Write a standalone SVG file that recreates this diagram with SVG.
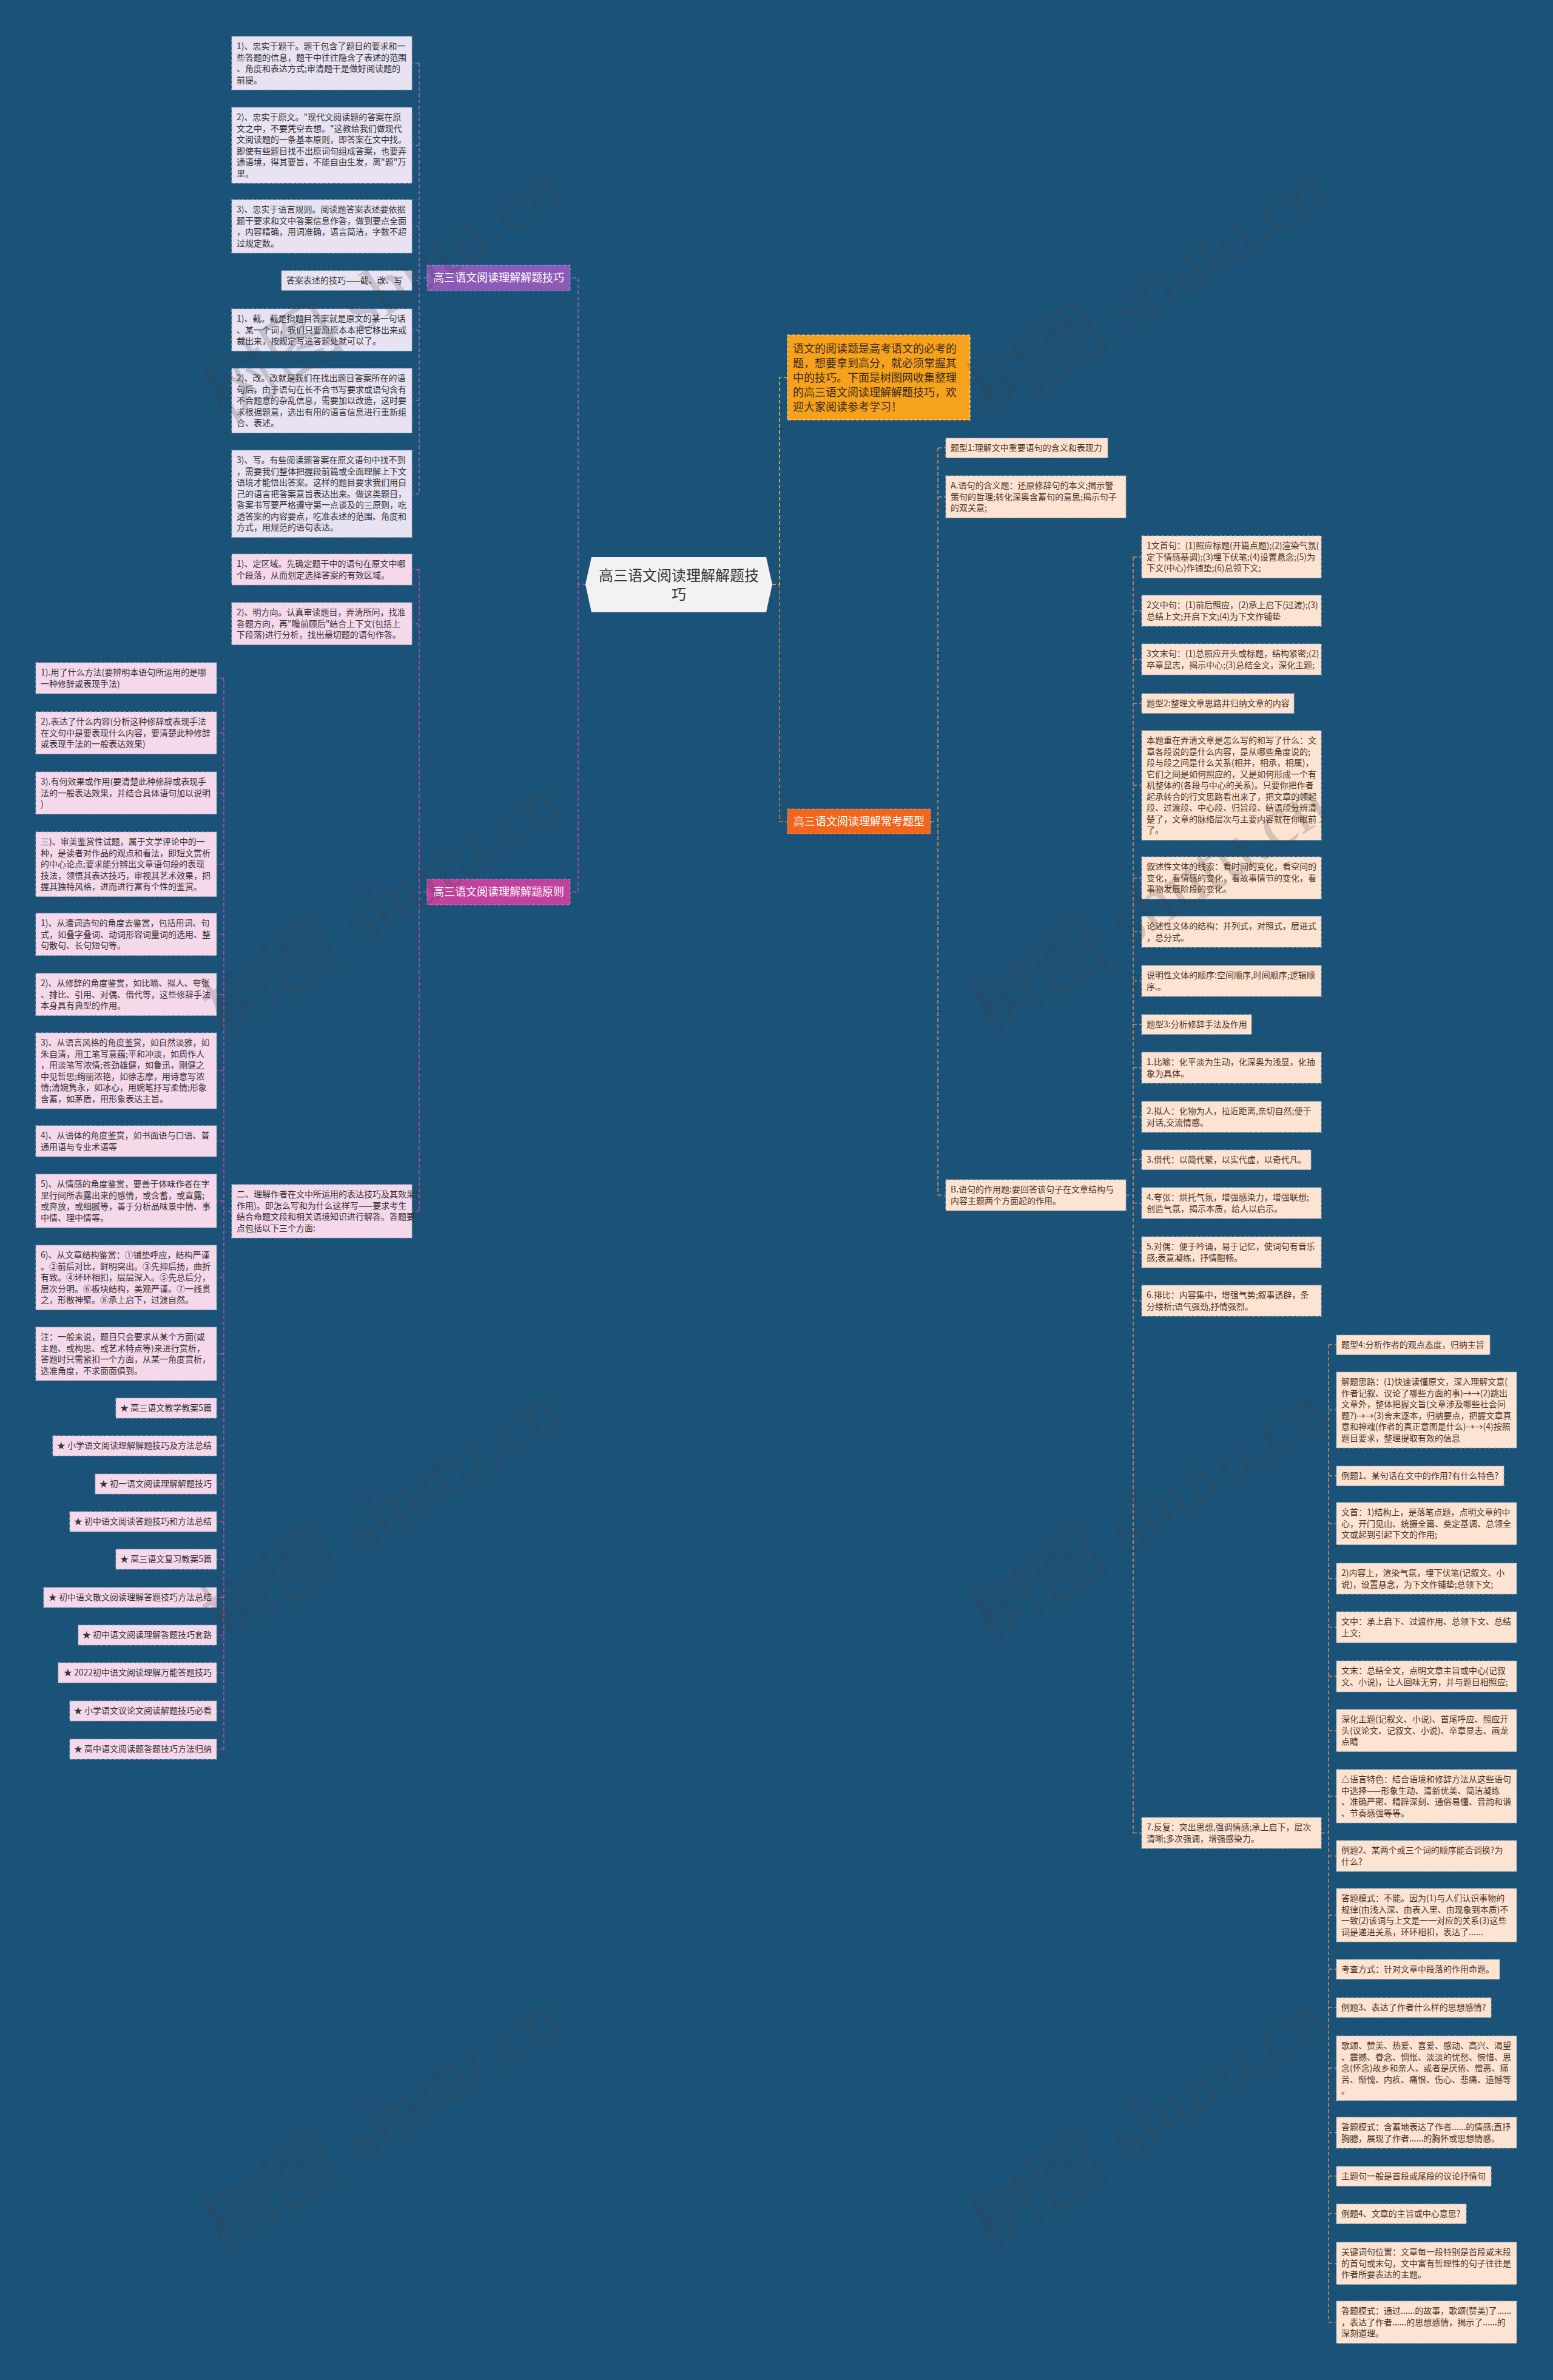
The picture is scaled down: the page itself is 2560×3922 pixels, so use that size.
<svg xmlns="http://www.w3.org/2000/svg" width="2560" height="3922" viewBox="0 0 2560 3922">
<style>
text{font-family:"Noto Sans CJK SC","Noto Sans",sans-serif}
.leaf rect{stroke:#a9b2c2;stroke-width:1.2;stroke-dasharray:5 3}
.leaf text{font-size:14px;fill:#333}
.lav rect{fill:#e8e2f2}
.pink rect{fill:#f6d8eb}
.peach rect{fill:#fde3d2}
.peach text{fill:#4d3426}
.star text{text-anchor:end}
.br text{font-size:18px;fill:#fff;text-anchor:middle}
.br rect{stroke:#ffffff;stroke-opacity:.35;stroke-width:1.2;stroke-dasharray:5 3}
.c{fill:none;stroke-width:1.6;stroke-dasharray:6 4}
.cp{stroke:#a064d2}.cm{stroke:#c64aa2}.cy{stroke:#e6c23c}.co{stroke:#ec7430}.cb{stroke:#d48c5e}
.wm{font-family:"Liberation Serif","Noto Sans CJK SC",serif;font-size:120px;fill:#3c3c3c;fill-opacity:.2;text-anchor:middle}
</style>
<rect x="0" y="0" width="2560" height="3922" fill="#1b5378"/>

<g id="connectors">
<path class="c cp" d="M965,963 H953 V458 H940 M704,458 H691 M691,104 V814 M691,104 H679 M691,239.5 H679 M691,373 H679 M691,462 H679 M691,544 H679 M691,660 H679 M691,814 H679"/>
<path class="c cm" d="M953,963 V1470 H940 M704,1470 H691 M691,938.5 V1996 M691,938.5 H679 M691,1028 H679 M691,1996 H679 M382,1996 H369 M369,1117.5 V2882.5 M369,1117.5 H357 M369,1208 H357 M369,1307 H357 M369,1424 H357 M369,1540 H357 M369,1639 H357 M369,1764.5 H357 M369,1880.5 H357 M369,1979 H357 M369,2105 H357 M369,2231 H357 M369,2320.5 H357 M369,2382.5 H357 M369,2445.5 H357 M369,2507.5 H357 M369,2569.5 H357 M369,2632.5 H357 M369,2694.5 H357 M369,2756.5 H357 M369,2819.5 H357 M369,2882.5 H357"/>
<path class="c cy" d="M1273,963 H1285 V622 H1298"/>
<path class="c co" d="M1285,963 V1354 H1298"/>
<path class="c cb" d="M1534,1354 H1546 M1546,738 V1969.5 M1546,738 H1559 M1546,819 H1559 M1546,1969.5 H1559"/>
<path class="c cb" d="M1856,1969.5 H1868 M1868,918 V3020.5 M1868,918 H1882 M1868,1006.5 H1882 M1868,1086.5 H1882 M1868,1159 H1882 M1868,1294 H1882 M1868,1447 H1882 M1868,1535.5 H1882 M1868,1616.5 H1882 M1868,1688 H1882 M1868,1759.5 H1882 M1868,1840.5 H1882 M1868,1911 H1882 M1868,1982.5 H1882 M1868,2063.5 H1882 M1868,2143.5 H1882 M1868,3020.5 H1882"/>
<path class="c cb" d="M2178,3020.5 H2190 M2190,2216 V3827 M2190,2216 H2203 M2190,2323.5 H2203 M2190,2432 H2203 M2190,2511 H2203 M2190,2601.5 H2203 M2190,2681.5 H2203 M2190,2762.5 H2203 M2190,2852 H2203 M2190,2960 H2203 M2190,3058.5 H2203 M2190,3156 H2203 M2190,3245 H2203 M2190,3308 H2203 M2190,3408 H2203 M2190,3514.5 H2203 M2190,3586 H2203 M2190,3648 H2203 M2190,3730 H2203 M2190,3827 H2203"/>
</g>

<g id="root">
<polygon points="965,963 975,918 1263,918 1273,963 1263,1009 975,1009" fill="#f2f2f2"/>
<text x="1119" y="957" font-size="24" fill="#333" text-anchor="middle">高三语文阅读理解解题技<tspan x="1119" dy="31">巧</tspan></text>
</g>

<g id="branch-skill" class="br"><rect x="704" y="437" width="236" height="42" fill="#8c5bb8"/><text x="822" y="464">高三语文阅读理解解题技巧</text></g>
<g id="branch-principle" class="br"><rect x="704" y="1449" width="236" height="42" fill="#c2419c"/><text x="822" y="1476">高三语文阅读理解解题原则</text></g>
<g id="branch-types" class="br"><rect x="1298" y="1333" width="236" height="41" fill="#f2651c"/><text x="1416" y="1360">高三语文阅读理解常考题型</text></g>

<g id="intro"><rect x="1298" y="552" width="301" height="140" fill="#f6a21c" stroke="#ffe0a0" stroke-width="1.2" stroke-dasharray="5 3"/>
<text x="1307" y="581" font-size="18" fill="#3a2a1a"><tspan>语文的阅读题是高考语文的必考的</tspan><tspan x="1307" dy="24">题，想要拿到高分，就必须掌握其</tspan><tspan x="1307" dy="24">中的技巧。下面是树图网收集整理</tspan><tspan x="1307" dy="24">的高三语文阅读理解解题技巧，欢</tspan><tspan x="1307" dy="24">迎大家阅读参考学习！</tspan></text></g>

<g id="n-l1" class="leaf lav"><rect x="382" y="60" width="297" height="88"/><text x="390" y="81"><tspan>1)、忠实于题干。题干包含了题目的要求和一</tspan><tspan x="390" dy="18.5">些答题的信息，题干中往往隐含了表述的范围</tspan><tspan x="390" dy="18.5">、角度和表达方式;审清题干是做好阅读题的</tspan><tspan x="390" dy="18.5">前提。</tspan></text></g>
<g id="n-l2" class="leaf lav"><rect x="382" y="177" width="297" height="125"/><text x="390" y="198"><tspan>2)、忠实于原文。"现代文阅读题的答案在原</tspan><tspan x="390" dy="18.5">文之中，不要凭空去想。"这教给我们做现代</tspan><tspan x="390" dy="18.5">文阅读题的一条基本原则，即答案在文中找。</tspan><tspan x="390" dy="18.5">即使有些题目找不出原词句组成答案，也要弄</tspan><tspan x="390" dy="18.5">通语境，得其要旨，不能自由生发，离"题"万</tspan><tspan x="390" dy="18.5">里。</tspan></text></g>
<g id="n-l3" class="leaf lav"><rect x="382" y="329" width="297" height="88"/><text x="390" y="350"><tspan>3)、忠实于语言规则。阅读题答案表述要依据</tspan><tspan x="390" dy="18.5">题干要求和文中答案信息作答，做到要点全面</tspan><tspan x="390" dy="18.5">，内容精确，用词准确，语言简洁，字数不超</tspan><tspan x="390" dy="18.5">过规定数。</tspan></text></g>
<g id="n-l4" class="leaf lav"><rect x="464" y="446" width="215" height="32.5"/><text x="472" y="467">答案表述的技巧——截、改、写</text></g>
<g id="n-l5" class="leaf lav"><rect x="382" y="509" width="297" height="69.5"/><text x="390" y="530"><tspan>1)、截。截是指题目答案就是原文的某一句话</tspan><tspan x="390" dy="18.5">、某一个词，我们只要原原本本把它移出来或</tspan><tspan x="390" dy="18.5">裁出来，按规定写进答题处就可以了。</tspan></text></g>
<g id="n-l6" class="leaf lav"><rect x="382" y="607" width="297" height="106.5"/><text x="390" y="628"><tspan>2)、改。改就是我们在找出题目答案所在的语</tspan><tspan x="390" dy="18.5">句后，由于语句在长不合书写要求或语句含有</tspan><tspan x="390" dy="18.5">不合题意的杂乱信息，需要加以改造，这时要</tspan><tspan x="390" dy="18.5">求根据题意，选出有用的语言信息进行重新组</tspan><tspan x="390" dy="18.5">合、表述。</tspan></text></g>
<g id="n-l7" class="leaf lav"><rect x="382" y="742" width="297" height="143.5"/><text x="390" y="763"><tspan>3)、写。有些阅读题答案在原文语句中找不到</tspan><tspan x="390" dy="18.5">，需要我们整体把握段前篇或全面理解上下文</tspan><tspan x="390" dy="18.5">语境才能悟出答案。这样的题目要求我们用自</tspan><tspan x="390" dy="18.5">己的语言把答案意旨表达出来。做这类题目，</tspan><tspan x="390" dy="18.5">答案书写要严格遵守第一点谈及的三原则，吃</tspan><tspan x="390" dy="18.5">透答案的内容要点，吃准表述的范围、角度和</tspan><tspan x="390" dy="18.5">方式，用规范的语句表达。</tspan></text></g>

<g id="n-l8" class="leaf pink"><rect x="382" y="913" width="297" height="51"/><text x="390" y="934"><tspan>1)、定区域。先确定题干中的语句在原文中哪</tspan><tspan x="390" dy="18.5">个段落，从而划定选择答案的有效区域。</tspan></text></g>
<g id="n-l9" class="leaf pink"><rect x="382" y="993" width="297" height="69.5"/><text x="390" y="1014"><tspan>2)、明方向。认真审读题目，弄清所问，找准</tspan><tspan x="390" dy="18.5">答题方向，再"瞻前顾后"结合上下文(包括上</tspan><tspan x="390" dy="18.5">下段落)进行分析，找出最切题的语句作答。</tspan></text></g>
<g id="n-two" class="leaf pink"><rect x="382" y="1952" width="297" height="88"/><text x="390" y="1973"><tspan>二、理解作者在文中所运用的表达技巧及其效果(</tspan><tspan x="390" dy="18.5">作用)。即怎么写和为什么这样写——要求考生</tspan><tspan x="390" dy="18.5">结合命题文段和相关语境知识进行解答。答题要</tspan><tspan x="390" dy="18.5">点包括以下三个方面:</tspan></text></g>

<g id="n-f1" class="leaf pink"><rect x="59" y="1092" width="298" height="51"/><text x="67" y="1113"><tspan>1).用了什么方法(要辨明本语句所运用的是哪</tspan><tspan x="67" dy="18.5">一种修辞或表现手法)</tspan></text></g>
<g id="n-f2" class="leaf pink"><rect x="59" y="1173" width="298" height="69.5"/><text x="67" y="1194"><tspan>2).表达了什么内容(分析这种修辞或表现手法</tspan><tspan x="67" dy="18.5">在文句中是要表现什么内容，要清楚此种修辞</tspan><tspan x="67" dy="18.5">或表现手法的一般表达效果)</tspan></text></g>
<g id="n-f3" class="leaf pink"><rect x="59" y="1272" width="298" height="69.5"/><text x="67" y="1293"><tspan>3).有何效果或作用(要清楚此种修辞或表现手</tspan><tspan x="67" dy="18.5">法的一般表达效果，并结合具体语句加以说明</tspan><tspan x="67" dy="18.5">)</tspan></text></g>
<g id="n-f4" class="leaf pink"><rect x="59" y="1371" width="298" height="106.5"/><text x="67" y="1392"><tspan>三)、审美鉴赏性试题，属于文学评论中的一</tspan><tspan x="67" dy="18.5">种，是读者对作品的观点和看法，即短文赏析</tspan><tspan x="67" dy="18.5">的中心论点;要求能分辨出文章语句段的表现</tspan><tspan x="67" dy="18.5">技法，领悟其表达技巧，审视其艺术效果，把</tspan><tspan x="67" dy="18.5">握其独特风格，进而进行富有个性的鉴赏。</tspan></text></g>
<g id="n-f5" class="leaf pink"><rect x="59" y="1505" width="298" height="69.5"/><text x="67" y="1526"><tspan>1)、从遣词造句的角度去鉴赏，包括用词、句</tspan><tspan x="67" dy="18.5">式，如叠字叠词、动词形容词量词的选用、整</tspan><tspan x="67" dy="18.5">句散句、长句短句等。</tspan></text></g>
<g id="n-f6" class="leaf pink"><rect x="59" y="1604" width="298" height="69.5"/><text x="67" y="1625"><tspan>2)、从修辞的角度鉴赏，如比喻、拟人、夸张</tspan><tspan x="67" dy="18.5">、排比、引用、对偶、借代等，这些修辞手法</tspan><tspan x="67" dy="18.5">本身具有典型的作用。</tspan></text></g>
<g id="n-f7" class="leaf pink"><rect x="59" y="1702" width="298" height="125"/><text x="67" y="1723"><tspan>3)、从语言风格的角度鉴赏，如自然淡雅，如</tspan><tspan x="67" dy="18.5">朱自清，用工笔写意蕴;平和冲淡，如周作人</tspan><tspan x="67" dy="18.5">，用淡笔写浓情;苍劲雄健，如鲁迅，刚健之</tspan><tspan x="67" dy="18.5">中见哲思;绚丽浓艳，如徐志摩，用诗意写浓</tspan><tspan x="67" dy="18.5">情;清婉隽永，如冰心，用婉笔抒写柔情;形象</tspan><tspan x="67" dy="18.5">含蓄，如茅盾，用形象表达主旨。</tspan></text></g>
<g id="n-f8" class="leaf pink"><rect x="59" y="1855" width="298" height="51"/><text x="67" y="1876"><tspan>4)、从语体的角度鉴赏，如书面语与口语、普</tspan><tspan x="67" dy="18.5">通用语与专业术语等</tspan></text></g>
<g id="n-f9" class="leaf pink"><rect x="59" y="1935" width="298" height="88"/><text x="67" y="1956"><tspan>5)、从情感的角度鉴赏，要善于体味作者在字</tspan><tspan x="67" dy="18.5">里行间所表露出来的感情，或含蓄，或直露;</tspan><tspan x="67" dy="18.5">或奔放，或细腻等，善于分析品味景中情、事</tspan><tspan x="67" dy="18.5">中情、理中情等。</tspan></text></g>
<g id="n-f10" class="leaf pink"><rect x="59" y="2052" width="298" height="106.5"/><text x="67" y="2073"><tspan>6)、从文章结构鉴赏：①铺垫呼应，结构严谨</tspan><tspan x="67" dy="18.5">。②前后对比，鲜明突出。③先抑后扬，曲折</tspan><tspan x="67" dy="18.5">有致。④环环相扣，层层深入。⑤先总后分，</tspan><tspan x="67" dy="18.5">层次分明。⑥板块结构，美观严谨。⑦一线贯</tspan><tspan x="67" dy="18.5">之，形散神聚。⑧承上启下，过渡自然。</tspan></text></g>
<g id="n-f11" class="leaf pink"><rect x="59" y="2187" width="298" height="88"/><text x="67" y="2208"><tspan>注：一般来说，题目只会要求从某个方面(或</tspan><tspan x="67" dy="18.5">主题、或构思、或艺术特点等)来进行赏析，</tspan><tspan x="67" dy="18.5">答题时只需紧扣一个方面，从某一角度赏析，</tspan><tspan x="67" dy="18.5">选准角度，不求面面俱到。</tspan></text></g>

<g id="n-s1" class="leaf pink star"><rect x="191" y="2304" width="166" height="33"/><text x="349" y="2325">★ 高三语文教学教案5篇</text></g>
<g id="n-s2" class="leaf pink star"><rect x="87" y="2366" width="270" height="33"/><text x="349" y="2387">★ 小学语文阅读理解解题技巧及方法总结</text></g>
<g id="n-s3" class="leaf pink star"><rect x="157" y="2429" width="200" height="33"/><text x="349" y="2450">★ 初一语文阅读理解解题技巧</text></g>
<g id="n-s4" class="leaf pink star"><rect x="115" y="2491" width="242" height="33"/><text x="349" y="2512">★ 初中语文阅读答题技巧和方法总结</text></g>
<g id="n-s5" class="leaf pink star"><rect x="191" y="2553" width="166" height="33"/><text x="349" y="2574">★ 高三语文复习教案5篇</text></g>
<g id="n-s6" class="leaf pink star"><rect x="72" y="2616" width="285" height="33"/><text x="349" y="2637">★ 初中语文散文阅读理解答题技巧方法总结</text></g>
<g id="n-s7" class="leaf pink star"><rect x="129" y="2678" width="228" height="33"/><text x="349" y="2699">★ 初中语文阅读理解答题技巧套路</text></g>
<g id="n-s8" class="leaf pink star"><rect x="96" y="2740" width="261" height="33"/><text x="349" y="2761">★ 2022初中语文阅读理解万能答题技巧</text></g>
<g id="n-s9" class="leaf pink star"><rect x="115" y="2803" width="242" height="33"/><text x="349" y="2824">★ 小学语文议论文阅读解题技巧必看</text></g>
<g id="n-s10" class="leaf pink star"><rect x="115" y="2866" width="242" height="33"/><text x="349" y="2887">★ 高中语文阅读题答题技巧方法归纳</text></g>

<g id="n-t1" class="leaf peach"><rect x="1559" y="722" width="267" height="32.5"/><text x="1567" y="743">题型1:理解文中重要语句的含义和表现力</text></g>
<g id="n-ta" class="leaf peach"><rect x="1559" y="784" width="297" height="69.5"/><text x="1567" y="805"><tspan>A.语句的含义题：还原修辞句的本义;揭示警</tspan><tspan x="1567" dy="18.5">策句的哲理;转化深奥含蓄句的意思;揭示句子</tspan><tspan x="1567" dy="18.5">的双关意;</tspan></text></g>
<g id="n-tb" class="leaf peach"><rect x="1559" y="1944" width="297" height="51"/><text x="1567" y="1965"><tspan>B.语句的作用题:要回答该句子在文章结构与</tspan><tspan x="1567" dy="18.5">内容主题两个方面起的作用。</tspan></text></g>

<g id="n-r-s1" class="leaf peach"><rect x="1882" y="883" width="296" height="69.5"/><text x="1890" y="904"><tspan>1文首句：(1)照应标题(开篇点题);(2)渲染气氛(</tspan><tspan x="1890" dy="18.5">定下情感基调);(3)埋下伏笔;(4)设置悬念;(5)为</tspan><tspan x="1890" dy="18.5">下文(中心)作铺垫;(6)总领下文;</tspan></text></g>
<g id="n-r-s2" class="leaf peach"><rect x="1882" y="981" width="296" height="51"/><text x="1890" y="1002"><tspan>2文中句：(1)前后照应，(2)承上启下(过渡);(3)</tspan><tspan x="1890" dy="18.5">总结上文;开启下文;(4)为下文作铺垫</tspan></text></g>
<g id="n-r-s3" class="leaf peach"><rect x="1882" y="1061" width="296" height="51"/><text x="1890" y="1082"><tspan>3文末句：(1)总照应开头或标题，结构紧密;(2)</tspan><tspan x="1890" dy="18.5">卒章显志，揭示中心;(3)总结全文，深化主题;</tspan></text></g>
<g id="n-r-s4" class="leaf peach"><rect x="1882" y="1143" width="251" height="32.5"/><text x="1890" y="1164">题型2:整理文章思路并归纳文章的内容</text></g>
<g id="n-r-s5" class="leaf peach"><rect x="1882" y="1204" width="296" height="180.5"/><text x="1890" y="1225"><tspan>本题重在弄清文章是怎么写的和写了什么：文</tspan><tspan x="1890" dy="18.5">章各段说的是什么内容，是从哪些角度说的;</tspan><tspan x="1890" dy="18.5">段与段之间是什么关系(相并，相承，相属)，</tspan><tspan x="1890" dy="18.5">它们之间是如何照应的，又是如何形成一个有</tspan><tspan x="1890" dy="18.5">机整体的(各段与中心的关系)。只要你把作者</tspan><tspan x="1890" dy="18.5">起承转合的行文思路看出来了，把文章的领起</tspan><tspan x="1890" dy="18.5">段、过渡段、中心段、归旨段、结语段分辨清</tspan><tspan x="1890" dy="18.5">楚了，文章的脉络层次与主要内容就在你眼前</tspan><tspan x="1890" dy="18.5">了。</tspan></text></g>
<g id="n-r-s6" class="leaf peach"><rect x="1882" y="1412" width="296" height="69.5"/><text x="1890" y="1433"><tspan>叙述性文体的线索：看时间的变化，看空间的</tspan><tspan x="1890" dy="18.5">变化，看情感的变化，看故事情节的变化，看</tspan><tspan x="1890" dy="18.5">事物发展阶段的变化。</tspan></text></g>
<g id="n-r-s7" class="leaf peach"><rect x="1882" y="1510" width="296" height="51"/><text x="1890" y="1531"><tspan>论述性文体的结构：并列式，对照式，层进式</tspan><tspan x="1890" dy="18.5">，总分式。</tspan></text></g>
<g id="n-r-s8" class="leaf peach"><rect x="1882" y="1591" width="296" height="51"/><text x="1890" y="1612"><tspan>说明性文体的顺序:空间顺序,时间顺序;逻辑顺</tspan><tspan x="1890" dy="18.5">序.。</tspan></text></g>
<g id="n-r-s9" class="leaf peach"><rect x="1882" y="1672" width="181" height="32.5"/><text x="1890" y="1693">题型3:分析修辞手法及作用</text></g>
<g id="n-r-s10" class="leaf peach"><rect x="1882" y="1734" width="296" height="51"/><text x="1890" y="1755"><tspan>1.比喻：化平淡为生动，化深奥为浅显，化抽</tspan><tspan x="1890" dy="18.5">象为具体。</tspan></text></g>
<g id="n-r-s11" class="leaf peach"><rect x="1882" y="1815" width="296" height="51"/><text x="1890" y="1836"><tspan>2.拟人：化物为人，拉近距离,亲切自然;便于</tspan><tspan x="1890" dy="18.5">对话,交流情感。</tspan></text></g>
<g id="n-r-s12" class="leaf peach"><rect x="1882" y="1895" width="279" height="32.5"/><text x="1890" y="1916">3.借代：以简代繁，以实代虚，以奇代凡。</text></g>
<g id="n-r-s13" class="leaf peach"><rect x="1882" y="1957" width="296" height="51"/><text x="1890" y="1978"><tspan>4.夸张：烘托气氛，增强感染力，增强联想;</tspan><tspan x="1890" dy="18.5">创造气氛，揭示本质，给人以启示。</tspan></text></g>
<g id="n-r-s14" class="leaf peach"><rect x="1882" y="2038" width="296" height="51"/><text x="1890" y="2059"><tspan>5.对偶：便于吟诵，易于记忆，使词句有音乐</tspan><tspan x="1890" dy="18.5">感;表意凝练，抒情酣畅。</tspan></text></g>
<g id="n-r-s15" class="leaf peach"><rect x="1882" y="2118" width="296" height="51"/><text x="1890" y="2139"><tspan>6.排比：内容集中，增强气势;叙事透辟，条</tspan><tspan x="1890" dy="18.5">分缕析;语气强劲,抒情强烈。</tspan></text></g>
<g id="n-r-s16" class="leaf peach"><rect x="1882" y="2995" width="296" height="51"/><text x="1890" y="3016"><tspan>7.反复：突出思想,强调情感;承上启下，层次</tspan><tspan x="1890" dy="18.5">清晰;多次强调，增强感染力。</tspan></text></g>

<g id="n-q1" class="leaf peach"><rect x="2203" y="2200" width="253" height="32.5"/><text x="2211" y="2221">题型4:分析作者的观点态度，归纳主旨</text></g>
<g id="n-q2" class="leaf peach"><rect x="2203" y="2261" width="297" height="125"/><text x="2211" y="2282"><tspan>解题思路：(1)快速读懂原文，深入理解文意(</tspan><tspan x="2211" dy="18.5">作者记叙、议论了哪些方面的事)→→(2)跳出</tspan><tspan x="2211" dy="18.5">文章外，整体把握文旨(文章涉及哪些社会问</tspan><tspan x="2211" dy="18.5">题?)→→(3)舍末逐本，归纳要点，把握文章真</tspan><tspan x="2211" dy="18.5">意和神魂(作者的真正意图是什么)→→(4)按照</tspan><tspan x="2211" dy="18.5">题目要求，整理提取有效的信息</tspan></text></g>
<g id="n-q3" class="leaf peach"><rect x="2203" y="2416" width="276" height="32.5"/><text x="2211" y="2437">例题1、某句话在文中的作用?有什么特色?</text></g>
<g id="n-q4" class="leaf peach"><rect x="2203" y="2476" width="297" height="69.5"/><text x="2211" y="2497"><tspan>文首：1)结构上，是落笔点题，点明文章的中</tspan><tspan x="2211" dy="18.5">心，开门见山、统摄全篇、奠定基调、总领全</tspan><tspan x="2211" dy="18.5">文或起到引起下文的作用;</tspan></text></g>
<g id="n-q5" class="leaf peach"><rect x="2203" y="2576" width="297" height="51"/><text x="2211" y="2597"><tspan>2)内容上，渲染气氛，埋下伏笔(记叙文、小</tspan><tspan x="2211" dy="18.5">说)，设置悬念，为下文作铺垫;总领下文;</tspan></text></g>
<g id="n-q6" class="leaf peach"><rect x="2203" y="2656" width="297" height="51"/><text x="2211" y="2677"><tspan>文中：承上启下、过渡作用、总领下文、总结</tspan><tspan x="2211" dy="18.5">上文;</tspan></text></g>
<g id="n-q7" class="leaf peach"><rect x="2203" y="2737" width="297" height="51"/><text x="2211" y="2758"><tspan>文末：总结全文，点明文章主旨或中心(记叙</tspan><tspan x="2211" dy="18.5">文、小说)，让人回味无穷，并与题目相照应;</tspan></text></g>
<g id="n-q8" class="leaf peach"><rect x="2203" y="2817" width="297" height="69.5"/><text x="2211" y="2838"><tspan>深化主题(记叙文、小说)、首尾呼应、照应开</tspan><tspan x="2211" dy="18.5">头(议论文、记叙文、小说)、卒章显志、画龙</tspan><tspan x="2211" dy="18.5">点睛</tspan></text></g>
<g id="n-q9" class="leaf peach"><rect x="2203" y="2916" width="297" height="88"/><text x="2211" y="2937"><tspan>△语言特色：结合语境和修辞方法从这些语句</tspan><tspan x="2211" dy="18.5">中选择——形象生动、清新优美、简洁凝练</tspan><tspan x="2211" dy="18.5">、准确严密、精辟深刻、通俗易懂、音韵和谐</tspan><tspan x="2211" dy="18.5">、节奏感强等等。</tspan></text></g>
<g id="n-q10" class="leaf peach"><rect x="2203" y="3033" width="297" height="51"/><text x="2211" y="3054"><tspan>例题2、某两个或三个词的顺序能否调换?为</tspan><tspan x="2211" dy="18.5">什么?</tspan></text></g>
<g id="n-q11" class="leaf peach"><rect x="2203" y="3112" width="297" height="88"/><text x="2211" y="3133"><tspan>答题模式：不能。因为(1)与人们认识事物的</tspan><tspan x="2211" dy="18.5">规律(由浅入深、由表入里、由现象到本质)不</tspan><tspan x="2211" dy="18.5">一致(2)该词与上文是一一对应的关系(3)这些</tspan><tspan x="2211" dy="18.5">词是递进关系，环环相扣，表达了......</tspan></text></g>
<g id="n-q12" class="leaf peach"><rect x="2203" y="3229" width="269" height="32.5"/><text x="2211" y="3250">考查方式：针对文章中段落的作用命题。</text></g>
<g id="n-q13" class="leaf peach"><rect x="2203" y="3292" width="255" height="32.5"/><text x="2211" y="3313">例题3、表达了作者什么样的思想感情?</text></g>
<g id="n-q14" class="leaf peach"><rect x="2203" y="3355" width="297" height="106.5"/><text x="2211" y="3376"><tspan>歌颂、赞美、热爱、喜爱、感动、高兴、渴望</tspan><tspan x="2211" dy="18.5">、震撼、眷念、惆怅、淡淡的忧愁、惋惜、思</tspan><tspan x="2211" dy="18.5">念(怀念)故乡和亲人、或者是厌倦、憎恶、痛</tspan><tspan x="2211" dy="18.5">苦、惭愧、内疚、痛恨、伤心、悲痛、遗憾等</tspan><tspan x="2211" dy="18.5">。</tspan></text></g>
<g id="n-q15" class="leaf peach"><rect x="2203" y="3489" width="297" height="51"/><text x="2211" y="3510"><tspan>答题模式：含蓄地表达了作者......的情感;直抒</tspan><tspan x="2211" dy="18.5">胸臆，展现了作者......的胸怀或思想情感。</tspan></text></g>
<g id="n-q16" class="leaf peach"><rect x="2203" y="3570" width="255" height="32.5"/><text x="2211" y="3591">主题句一般是首段或尾段的议论抒情句</text></g>
<g id="n-q17" class="leaf peach"><rect x="2203" y="3632" width="214" height="32.5"/><text x="2211" y="3653">例题4、文章的主旨或中心意思?</text></g>
<g id="n-q18" class="leaf peach"><rect x="2203" y="3695" width="297" height="69.5"/><text x="2211" y="3716"><tspan>关键词句位置：文章每一段特别是首段或末段</tspan><tspan x="2211" dy="18.5">的首句或末句，文中富有哲理性的句子往往是</tspan><tspan x="2211" dy="18.5">作者所要表达的主题。</tspan></text></g>
<g id="n-q19" class="leaf peach"><rect x="2203" y="3792" width="297" height="69.5"/><text x="2211" y="3813"><tspan>答题模式：通过......的故事，歌颂(赞美)了......</tspan><tspan x="2211" dy="18.5">，表达了作者......的思想感情，揭示了......的</tspan><tspan x="2211" dy="18.5">深刻道理。</tspan></text></g>

<g id="watermark">
<text class="wm" transform="translate(651,513) rotate(-33)">树图 shutu.cn</text>
<text class="wm" transform="translate(1914,513) rotate(-33)">树图 shutu.cn</text>
<text class="wm" transform="translate(651,1527) rotate(-33)">树图 shutu.cn</text>
<text class="wm" transform="translate(1914,1527) rotate(-33)">树图 shutu.cn</text>
<text class="wm" transform="translate(651,2528) rotate(-33)">树图 shutu.cn</text>
<text class="wm" transform="translate(1914,2528) rotate(-33)">树图 shutu.cn</text>
<text class="wm" transform="translate(651,3529) rotate(-33)">树图 shutu.cn</text>
<text class="wm" transform="translate(1914,3529) rotate(-33)">树图 shutu.cn</text>
</g>
</svg>
